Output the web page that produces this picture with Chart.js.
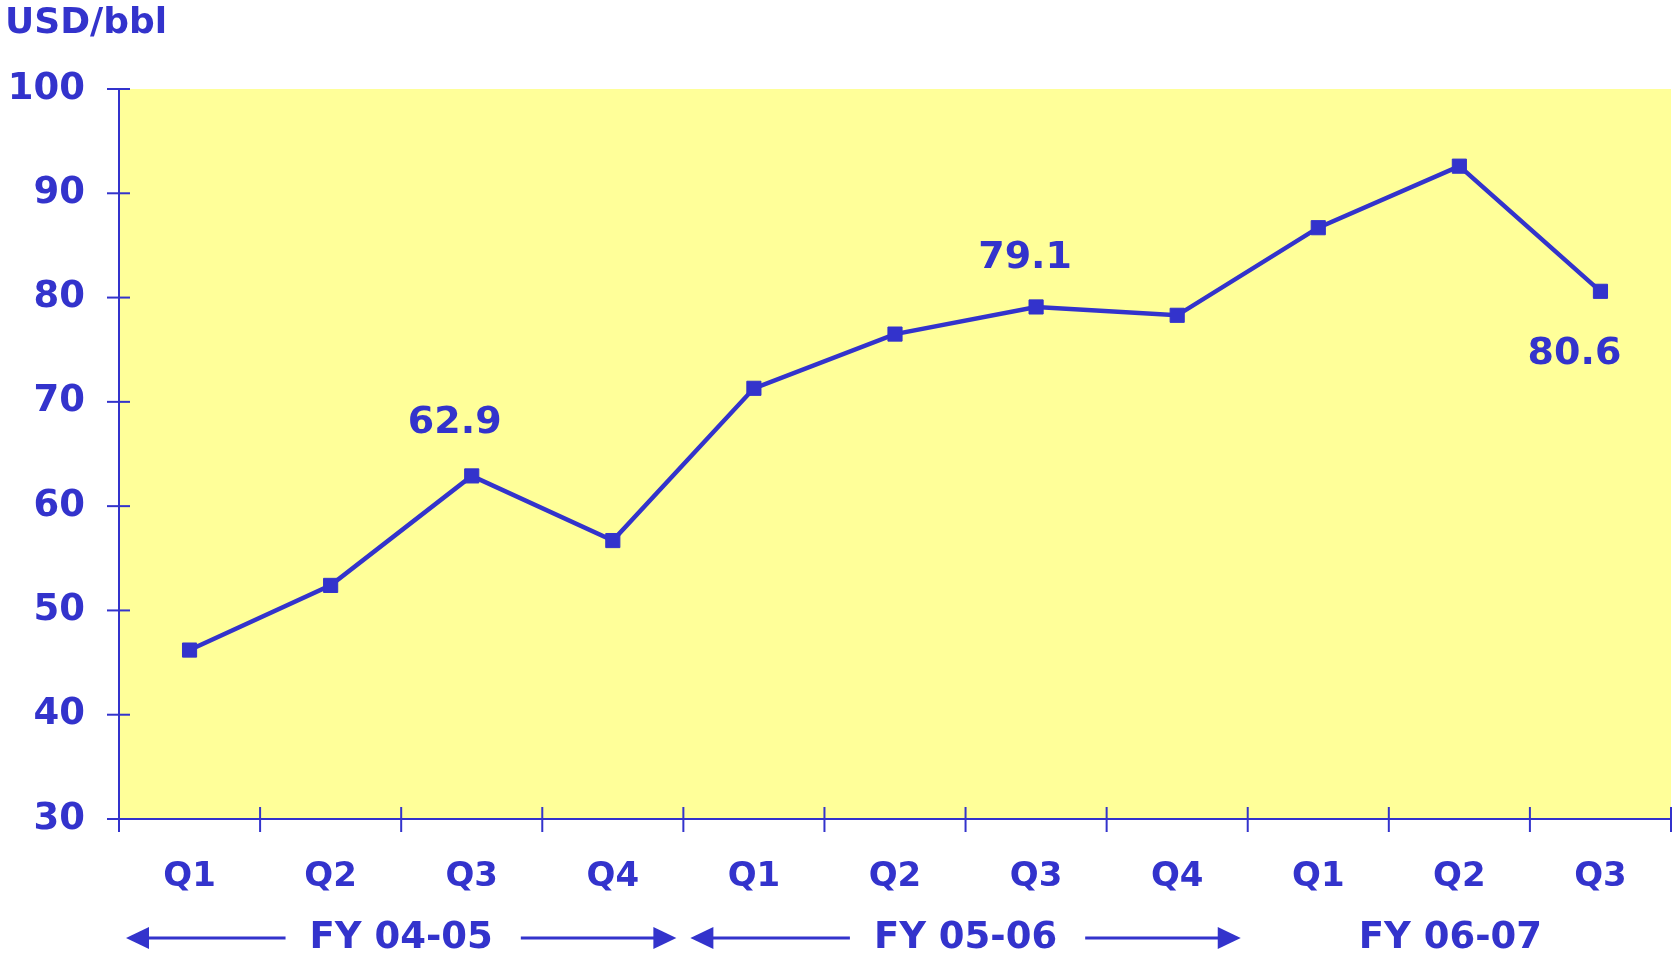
<!DOCTYPE html>
<html>
<head>
<meta charset="utf-8">
<script src="https://cdn.jsdelivr.net/npm/chart.js@4.4.1/dist/chart.umd.min.js"></script>
<style>
  html, body { margin: 0; padding: 0; background: #fff; }
  #wrap { width: 1673px; height: 959px; position: relative; }
</style>
</head>
<body>
<div id="wrap"><canvas id="crudeChart"></canvas></div>
<script>
// data
const quarters = ['Q1', 'Q2', 'Q3', 'Q4', 'Q1', 'Q2', 'Q3', 'Q4', 'Q1', 'Q2', 'Q3'];
const prices = [46.2, 52.4, 62.9, 56.7, 71.3, 76.5, 79.1, 78.3, 86.7, 92.6, 80.6];
const yTickValues = [30, 40, 50, 60, 70, 80, 90, 100];
const fiscalYears = ['FY 04-05', 'FY 05-06', 'FY 06-07'];
const quartersPerYear = [4, 4, 3];
const labelledPoints = [2, 6, 10];
const unitLabel = 'USD/bbl';

const blue = '#3333cc';
const yellow = '#ffff99';
const fam = '"DejaVu Sans", Verdana, sans-serif';

// where the value labels sit relative to their point
const labelOffsets = { 2: [-17, -53], 6: [-11, -49], 10: [-26, 63] };

function arrowHead(ctx, tipX, y, dir) {
  ctx.beginPath();
  ctx.moveTo(tipX, y);
  ctx.lineTo(tipX - dir * 23, y - 11);
  ctx.lineTo(tipX - dir * 23, y + 11);
  ctx.closePath();
  ctx.fill();
}

const decorations = {
  id: 'decorations',
  beforeDraw(chart) {
    const { ctx, chartArea: a } = chart;
    ctx.save();
    ctx.fillStyle = yellow;
    ctx.fillRect(a.left, a.top, a.right - a.left, a.bottom - a.top);
    ctx.restore();
  },
  afterDraw(chart) {
    const { ctx, chartArea: a, scales: { x, y } } = chart;
    ctx.save();
    ctx.strokeStyle = blue;
    ctx.fillStyle = blue;
    ctx.lineWidth = 2;

    // tick marks crossing the axes
    y.ticks.forEach((t, i) => {
      const py = y.getPixelForTick(i);
      ctx.beginPath();
      ctx.moveTo(a.left - 12, py);
      ctx.lineTo(a.left + 11, py);
      ctx.stroke();
    });
    for (let i = 0; i <= quarters.length; i++) {
      const px = x.getPixelForValue(i - 0.5);
      ctx.beginPath();
      ctx.moveTo(px, a.bottom - 12);
      ctx.lineTo(px, a.bottom + 13);
      ctx.stroke();
    }

    // unit label
    ctx.font = 'bold 36px ' + fam;
    ctx.textAlign = 'left';
    ctx.textBaseline = 'alphabetic';
    ctx.fillText(unitLabel, 5, 33);

    // value labels
    ctx.font = 'bold 38px ' + fam;
    ctx.textAlign = 'center';
    ctx.textBaseline = 'middle';
    labelledPoints.forEach(i => {
      const off = labelOffsets[i];
      ctx.fillText(prices[i].toFixed(1), x.getPixelForValue(i) + off[0], y.getPixelForValue(prices[i]) + off[1]);
    });

    // fiscal year bands with arrows
    ctx.font = 'bold 37px ' + fam;
    const fy = 938;
    let start = 0;
    fiscalYears.forEach((name, g) => {
      const n = quartersPerYear[g];
      const b0 = x.getPixelForValue(start - 0.5);
      const b1 = x.getPixelForValue(start + n - 0.5);
      const cx = (b0 + b1) / 2 - (n === 4 ? 0 : 9);
      ctx.fillText(name, cx, fy);
      if (n === 4) {
        const w = ctx.measureText(name).width;
        const l0 = b0 + 7, l1 = cx - w / 2 - 24;
        const r0 = cx + w / 2 + 28, r1 = b1 - 7;
        ctx.lineWidth = 3;
        ctx.beginPath();
        ctx.moveTo(l0 + 10, fy); ctx.lineTo(l1, fy);
        ctx.moveTo(r0, fy); ctx.lineTo(r1 - 10, fy);
        ctx.stroke();
        arrowHead(ctx, l0, fy, -1);
        arrowHead(ctx, r1, fy, 1);
      }
      start += n;
    });
    ctx.restore();
  }
};

new Chart(document.getElementById('crudeChart'), {
  type: 'line',
  data: {
    labels: quarters,
    datasets: [{
      data: prices,
      borderColor: blue,
      backgroundColor: blue,
      borderWidth: 4.5,
      pointStyle: 'rect',
      pointRadius: 10,
      pointBorderWidth: 1,
      tension: 0
    }]
  },
  options: {
    responsive: true,
    maintainAspectRatio: false,
    animation: false,
    layout: { autoPadding: false, padding: { top: 89, right: 2, left: 0, bottom: 0 } },
    plugins: { legend: { display: false }, tooltip: { enabled: false } },
    scales: {
      x: {
        offset: true,
        grid: { display: false, drawTicks: false },
        border: { color: blue, width: 2 },
        ticks: { color: blue, font: { family: fam, weight: 'bold', size: 34 }, padding: 38, maxRotation: 0, autoSkip: false },
        afterFit(s) { s.height = 140; }
      },
      y: {
        min: 30,
        max: 100,
        afterBuildTicks(s) { s.ticks = yTickValues.map(v => ({ value: v })); },
        grid: { display: false, drawTicks: false },
        border: { color: blue, width: 2 },
        ticks: { color: blue, font: { family: fam, weight: 'bold', size: 37 }, padding: 34 },
        afterFit(s) { s.width = 119; }
      }
    }
  },
  plugins: [decorations]
});
</script>
</body>
</html>
